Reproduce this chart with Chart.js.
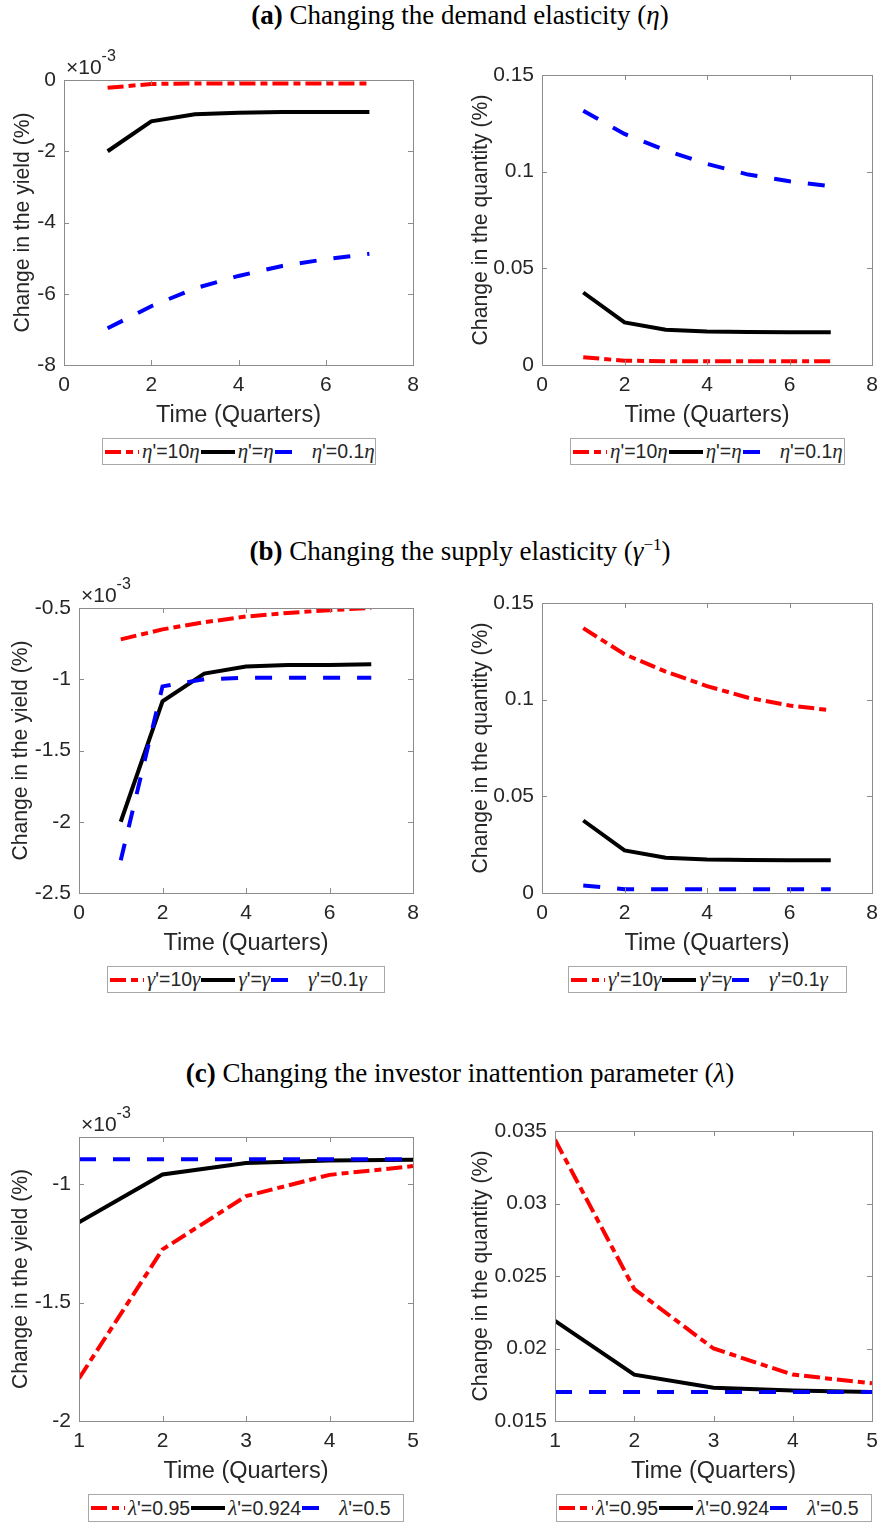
<!DOCTYPE html>
<html>
<head>
<meta charset="utf-8">
<script src="https://cdn.jsdelivr.net/npm/chart.js@4.4.0/dist/chart.umd.min.js"></script>
<style>
body{margin:0;background:#fff;width:880px;height:1524px;position:relative;overflow:hidden;font-family:"Liberation Sans",Arial,sans-serif;}
.title{position:absolute;left:20px;width:880px;text-align:center;font-family:"Liberation Serif",serif;font-size:27px;line-height:30px;color:#000;white-space:nowrap;}
.title i{font-style:italic}
canvas{position:absolute}
.legend{position:absolute;box-sizing:border-box;border:1px solid #a8a8a8;background:#fff;display:flex;align-items:center;padding-left:2px;font-size:19.5px;color:#262626;white-space:nowrap}
.legend svg{flex:none;margin-right:3px}
.legend span{margin-right:1px}
.legend i{font-family:"Liberation Serif",serif;font-style:italic;font-size:21px}
</style>
</head>
<body>
<div class="title" style="top:0px"><b>(a)</b> Changing the demand elasticity (<i>η</i>)</div>
<div class="title" style="top:530px"><b>(b)</b> Changing the supply elasticity (<i>γ</i><sup style="font-size:17px">−1</sup>)</div>
<div class="title" style="top:1058px"><b>(c)</b> Changing the investor inattention parameter (<i>λ</i>)</div>

<script>
// time axis
const quartersAB = [1, 2, 3, 4, 5, 6, 7];
const quartersC = [1, 2, 3, 4, 5];

// (a) demand elasticity: eta'=10eta, eta'=eta, eta'=0.1eta
const yieldA10 = [-0.22, -0.11, -0.1, -0.1, -0.1, -0.1, -0.1];
const yieldA1 = [-2.0, -1.16, -0.96, -0.92, -0.9, -0.9, -0.9];
const yieldA01 = [-6.97, -6.35, -5.85, -5.5, -5.22, -5.03, -4.88];
const qtyA10 = [0.004, 0.0022, 0.002, 0.002, 0.002, 0.002, 0.002];
const qtyA1 = [0.0375, 0.022, 0.0182, 0.0173, 0.0171, 0.017, 0.017];
const qtyA01 = [0.1315, 0.1195, 0.111, 0.104, 0.0985, 0.095, 0.0925];

// (b) supply elasticity: gamma'=10gamma, gamma'=gamma, gamma'=0.1gamma
const yieldB10 = [-0.72, -0.65, -0.6, -0.56, -0.535, -0.515, -0.5];
const yieldB1 = [-2.0, -1.155, -0.96, -0.91, -0.9, -0.9, -0.895];
const yieldB01 = [-2.27, -1.05, -1.0, -0.99, -0.99, -0.99, -0.99];
const qtyB10 = [0.137, 0.1235, 0.1145, 0.107, 0.101, 0.097, 0.0945];
const qtyB1 = [0.0375, 0.022, 0.0182, 0.0173, 0.0171, 0.017, 0.017];
const qtyB01 = [0.0039, 0.002, 0.002, 0.002, 0.002, 0.002, 0.002];

// (c) inattention: lambda'=0.95, lambda'=0.924, lambda'=0.5
const yieldC95 = [-1.82, -1.275, -1.05, -0.96, -0.923];
const yieldC924 = [-1.16, -0.958, -0.91, -0.899, -0.896];
const yieldC5 = [-0.894, -0.894, -0.894, -0.894, -0.894];
const qtyC95 = [0.0344, 0.0241, 0.02, 0.0182, 0.0176];
const qtyC924 = [0.0219, 0.0182, 0.0173, 0.0171, 0.017];
const qtyC5 = [0.017, 0.017, 0.017, 0.017, 0.017];

// ticks
const xTicksAB = [0, 2, 4, 6, 8];
const xTicksC = [1, 2, 3, 4, 5];
const yTicksYieldA = [-8, -6, -4, -2, 0];
const yTicksYieldB = [-2.5, -2, -1.5, -1, -0.5];
const yTicksYieldC = [-2, -1.5, -1];
const yTicksQty = [0, 0.05, 0.1, 0.15];
const yTicksQtyC = [0.015, 0.02, 0.025, 0.03, 0.035];

// legend labels
const legendEta = ["η'=10η", "η'=η", "η'=0.1η"];
const legendGamma = ["γ'=10γ", "γ'=γ", "γ'=0.1γ"];
const legendLambda = ["λ'=0.95", "λ'=0.924", "λ'=0.5"];

const lineStyles = [
  {color: '#ff0000', dash: [16, 5, 7, 5], order: 3},
  {color: '#000000', dash: [], order: 2},
  {color: '#0000ff', dash: [17, 17], order: 1}
];

const yieldTitle = 'Change in the yield (%)';
const qtyTitle = 'Change in the quantity (%)';

const panels = [
  {left: 0, area: [64, 413, 80, 365], yTitle: yieldTitle, yPad: 10.5, x: quartersAB, series: [yieldA10, yieldA1, yieldA01],
   xr: [0, 8], xt: xTicksAB, yr: [-8, 0], yt: yTicksYieldA, exp: true, legend: [102, 438, 274, 27], labels: legendEta},
  {left: 440, area: [542, 872, 75, 365], yTitle: qtyTitle, yPad: 28, x: quartersAB, series: [qtyA10, qtyA1, qtyA01],
   xr: [0, 8], xt: xTicksAB, yr: [0, 0.15], yt: yTicksQty, exp: false, legend: [570, 438, 275, 27], labels: legendEta},
  {left: 0, area: [79, 413, 608, 893], yTitle: yieldTitle, yPad: 8, x: quartersAB, series: [yieldB10, yieldB1, yieldB01],
   xr: [0, 8], xt: xTicksAB, yr: [-2.5, -0.5], yt: yTicksYieldB, exp: true, legend: [107, 966, 278, 27], labels: legendGamma},
  {left: 440, area: [542, 872, 603, 893], yTitle: qtyTitle, yPad: 28, x: quartersAB, series: [qtyB10, qtyB1, qtyB01],
   xr: [0, 8], xt: xTicksAB, yr: [0, 0.15], yt: yTicksQty, exp: false, legend: [568, 966, 279, 27], labels: legendGamma},
  {left: 0, area: [79, 413, 1137, 1421], yTitle: yieldTitle, yPad: 8, x: quartersC, series: [yieldC95, yieldC924, yieldC5],
   xr: [1, 5], xt: xTicksC, yr: [-2, -0.8], yt: yTicksYieldC, exp: true, legend: [88, 1494, 316, 28], labels: legendLambda},
  {left: 440, area: [555, 872, 1131, 1421], yTitle: qtyTitle, yPad: 28, x: quartersC, series: [qtyC95, qtyC924, qtyC5],
   xr: [1, 5], xt: xTicksC, yr: [0.015, 0.035], yt: yTicksQtyC, exp: false, legend: [556, 1494, 316, 28], labels: legendLambda}
];

// box, inward ticks and the x10^-3 multiplier like matlab axes
const framePlugin = {
  id: 'frame',
  afterDraw(chart, args, opts) {
    const {ctx, chartArea: a, scales: {x, y}} = chart;
    ctx.save();
    ctx.strokeStyle = '#8c8c8c';
    ctx.lineWidth = 1;
    ctx.strokeRect(Math.round(a.left) + 0.5, Math.round(a.top) + 0.5, Math.round(a.right - a.left), Math.round(a.bottom - a.top));
    ctx.beginPath();
    x.ticks.forEach(t => {
      const px = Math.round(x.getPixelForValue(t.value)) + 0.5;
      ctx.moveTo(px, a.bottom); ctx.lineTo(px, a.bottom - 5);
      ctx.moveTo(px, a.top); ctx.lineTo(px, a.top + 5);
    });
    y.ticks.forEach(t => {
      const py = Math.round(y.getPixelForValue(t.value)) + 0.5;
      ctx.moveTo(a.left, py); ctx.lineTo(a.left + 5, py);
      ctx.moveTo(a.right, py); ctx.lineTo(a.right - 5, py);
    });
    ctx.stroke();
    if (opts.exp) {
      ctx.fillStyle = '#262626';
      ctx.font = '21px "Liberation Sans"';
      ctx.textBaseline = 'alphabetic';
      ctx.fillText('×10', a.left + 2, a.top - 6);
      const w = ctx.measureText('×10').width;
      ctx.font = '16px "Liberation Sans"';
      ctx.fillText('-3', a.left + 2 + w, a.top - 19);
    }
    ctx.restore();
  }
};

function makeLegend(p) {
  const box = document.createElement('div');
  box.className = 'legend';
  const [lx, ly, lw, lh] = p.legend;
  box.style.left = lx + 'px';
  box.style.top = ly + 'px';
  box.style.width = lw + 'px';
  box.style.height = lh + 'px';
  p.labels.forEach((lab, i) => {
    const st = lineStyles[i];
    const svg = document.createElementNS('http://www.w3.org/2000/svg', 'svg');
    svg.setAttribute('width', 34);
    svg.setAttribute('height', 10);
    const ln = document.createElementNS('http://www.w3.org/2000/svg', 'line');
    ln.setAttribute('x1', 0); ln.setAttribute('x2', 34);
    ln.setAttribute('y1', 5); ln.setAttribute('y2', 5);
    ln.setAttribute('stroke', st.color);
    ln.setAttribute('stroke-width', 4);
    if (st.dash.length) ln.setAttribute('stroke-dasharray', st.dash.join(' '));
    svg.appendChild(ln);
    box.appendChild(svg);
    const span = document.createElement('span');
    span.innerHTML = lab.replace(/([ηγλ])/g, '<i>$1</i>');
    box.appendChild(span);
  });
  document.body.appendChild(box);
}

const TOP_PAD = 40, X_AXIS_H = 68, CANVAS_W = 470;

panels.forEach(p => {
  const [L, R, T, B] = p.area;
  const cv = document.createElement('canvas');
  const w = CANVAS_W, h = TOP_PAD + (B - T) + X_AXIS_H;
  cv.style.left = p.left + 'px';
  cv.style.top = (T - TOP_PAD) + 'px';
  cv.style.width = w + 'px';
  cv.style.height = h + 'px';
  cv.width = w; cv.height = h;
  document.body.appendChild(cv);

  const datasets = p.series.map((vals, i) => ({
    data: vals.map((v, k) => ({x: p.x[k], y: v})),
    borderColor: lineStyles[i].color,
    borderDash: lineStyles[i].dash,
    borderWidth: 4,
    pointRadius: 0,
    tension: 0,
    fill: false,
    order: lineStyles[i].order
  }));

  new Chart(cv.getContext('2d'), {
    type: 'line',
    data: {datasets},
    plugins: [framePlugin],
    options: {
      responsive: false,
      animation: false,
      events: [],
      layout: {padding: {top: TOP_PAD, right: w - (R - p.left), left: 0, bottom: 0}},
      plugins: {legend: {display: false}, tooltip: {enabled: false}, frame: {exp: p.exp}},
      scales: {
        x: {
          type: 'linear', min: p.xr[0], max: p.xr[1],
          grid: {display: false, drawTicks: false}, border: {display: false},
          afterBuildTicks: s => { s.ticks = p.xt.map(v => ({value: v})); },
          afterFit: s => { s.height = X_AXIS_H; },
          ticks: {autoSkip: false, maxRotation: 0, padding: 8, color: '#262626',
                  font: {family: 'Liberation Sans', size: 21}, callback: v => String(v)},
          title: {display: true, text: 'Time (Quarters)', color: '#262626',
                  font: {family: 'Liberation Sans', size: 23.5}, padding: {top: 0, bottom: 3}}
        },
        y: {
          type: 'linear', min: p.yr[0], max: p.yr[1],
          grid: {display: false, drawTicks: false}, border: {display: false},
          afterBuildTicks: s => { s.ticks = p.yt.map(v => ({value: v})); },
          afterFit: s => { s.width = L - p.left; },
          ticks: {autoSkip: false, padding: 8, color: '#262626',
                  font: {family: 'Liberation Sans', size: 21}, callback: v => String(v)},
          title: {display: true, text: p.yTitle, color: '#262626',
                  font: {family: 'Liberation Sans', size: 21.2}, padding: {top: p.yPad, bottom: 0}}
        }
      }
    }
  });
  makeLegend(p);
});
</script>
</body>
</html>
